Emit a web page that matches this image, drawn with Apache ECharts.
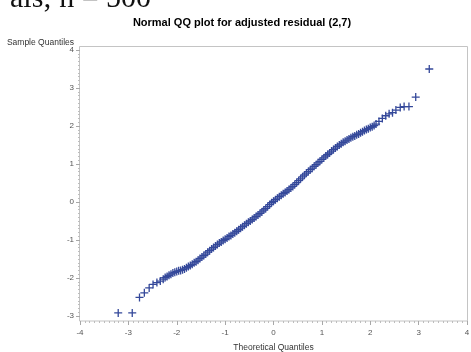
<!DOCTYPE html>
<html>
<head>
<meta charset="utf-8">
<script src="https://cdn.jsdelivr.net/npm/echarts@6/dist/echarts.min.js"></script>
<style>
  html, body { margin: 0; padding: 0; background: #fff; }
  #chart { width: 471px; height: 352px; }
</style>
</head>
<body>
<div id="chart"></div>
<script>
// Normal QQ plot of the adjusted residual (2,7), n = 500.
// Theoretical (normal) quantiles against sample quantiles, lower tail, body and upper tail.
const theoretical = [
  -3.21, -2.92, -2.77, -2.67, -2.57, -2.49, -2.41, -2.34,
  -2.28, -2.24, -2.20, -2.16, -2.12, -2.08, -2.04, -2.00, -1.96, -1.92,
  -1.88, -1.84, -1.80, -1.76, -1.72, -1.68, -1.64, -1.60, -1.56, -1.52,
  -1.48, -1.44, -1.40, -1.36, -1.32, -1.28, -1.24, -1.20, -1.16, -1.12,
  -1.08, -1.04, -1.00, -0.96, -0.92, -0.88, -0.84, -0.80, -0.76, -0.72,
  -0.68, -0.64, -0.60, -0.56, -0.52, -0.48, -0.44, -0.40, -0.36, -0.32,
  -0.28, -0.24, -0.20, -0.16, -0.12, -0.08, -0.04, 0.00, 0.04, 0.08,
  0.12, 0.16, 0.20, 0.24, 0.28, 0.32, 0.36, 0.40, 0.44, 0.48,
  0.52, 0.56, 0.60, 0.64, 0.68, 0.72, 0.76, 0.80, 0.84, 0.88,
  0.92, 0.96, 1.00, 1.04, 1.08, 1.12, 1.16, 1.20, 1.24, 1.28,
  1.32, 1.36, 1.40, 1.44, 1.48, 1.52, 1.56, 1.60, 1.64, 1.68,
  1.72, 1.76, 1.80, 1.84, 1.88, 1.92, 1.96, 2.00, 2.04, 2.08, 2.12,
  2.18, 2.25, 2.32, 2.39, 2.46, 2.53, 2.62, 2.70, 2.80, 2.94, 3.22
];
const sample = [
  -2.92, -2.92, -2.51, -2.39, -2.26, -2.17, -2.12, -2.08,
  -2.03, -1.99, -1.96, -1.93, -1.90, -1.87, -1.85, -1.83, -1.81, -1.80,
  -1.78, -1.76, -1.73, -1.70, -1.67, -1.64, -1.60, -1.57, -1.53, -1.49,
  -1.45, -1.41, -1.37, -1.32, -1.28, -1.24, -1.20, -1.16, -1.12, -1.08,
  -1.05, -1.01, -0.98, -0.95, -0.91, -0.88, -0.84, -0.81, -0.77, -0.73,
  -0.69, -0.65, -0.61, -0.57, -0.53, -0.50, -0.46, -0.42, -0.38, -0.34,
  -0.30, -0.26, -0.21, -0.17, -0.12, -0.07, -0.02, 0.02, 0.06, 0.10,
  0.14, 0.18, 0.22, 0.25, 0.29, 0.33, 0.37, 0.41, 0.46, 0.51,
  0.56, 0.61, 0.66, 0.71, 0.76, 0.80, 0.85, 0.89, 0.94, 0.98,
  1.03, 1.07, 1.12, 1.16, 1.21, 1.25, 1.29, 1.34, 1.38, 1.42,
  1.46, 1.50, 1.53, 1.57, 1.60, 1.63, 1.66, 1.69, 1.72, 1.74,
  1.77, 1.79, 1.82, 1.85, 1.88, 1.91, 1.93, 1.96, 1.98, 2.01, 2.05,
  2.12, 2.20, 2.27, 2.32, 2.35, 2.42, 2.49, 2.51, 2.51, 2.76, 3.50
];

const titleText = 'Normal QQ plot for adjusted residual (2,7)';
const xName = 'Theoretical Quantiles';
const yName = 'Sample Quantiles';
const headerText = 'als; n = 500';

const points = theoretical.map((x, i) => [x, sample[i]]);

const tickGray = '#a8a8a8';
const labelGray = '#555555';
const sans = '"Liberation Sans", Arial, sans-serif';

const chart = echarts.init(document.getElementById('chart'), null, { renderer: 'canvas' });

const axisCommon = {
  type: 'value',
  interval: 1,
  splitLine: { show: false },
  axisLine: { show: false, onZero: false },
  axisTick: { show: true, inside: false, length: 4, lineStyle: { color: tickGray, width: 1 } },
  minorTick: { show: true, splitNumber: 10, length: 2, lineStyle: { color: '#bdbdbd', width: 1 } },
  axisLabel: { fontSize: 8, color: labelGray, fontFamily: sans }
};

chart.setOption({
  animation: false,
  backgroundColor: '#ffffff',
  title: {
    text: titleText,
    left: 237,
    textAlign: 'center',
    top: 12,
    textStyle: { fontSize: 11, fontWeight: 'bold', color: '#000', fontFamily: sans }
  },
  grid: { left: 80, right: 4, top: 50, bottom: 36, containLabel: false, outerBoundsMode: 'none' },
  xAxis: Object.assign({}, axisCommon, {
    min: -4, max: 4,
    offset: 5,
    axisLabel: Object.assign({}, axisCommon.axisLabel, { margin: 8 }),
    name: xName,
    nameLocation: 'middle',
    nameGap: 22,
    nameTextStyle: { fontSize: 8.5, color: '#333', fontFamily: sans }
  }),
  yAxis: Object.assign({}, axisCommon, {
    min: -3, max: 4,
    axisLabel: Object.assign({}, axisCommon.axisLabel, { margin: 6 })
  }),
  graphic: [
    {
      type: 'rect',
      z: -1,
      silent: true,
      shape: { x: 79.5, y: 46.5, width: 388, height: 274.5 },
      style: { fill: 'none', stroke: '#c4c4c4', lineWidth: 1 }
    },
    {
      type: 'text',
      x: 74, y: 43,
      style: { text: yName, align: 'right', verticalAlign: 'middle', fontSize: 8.5, fill: '#333', fontFamily: sans }
    },
    {
      type: 'text',
      x: 10, y: -1,
      style: { text: headerText, align: 'left', verticalAlign: 'middle', fontSize: 30, fill: '#111', fontFamily: '"Liberation Serif", "DejaVu Serif", serif' }
    }
  ],
  series: [{
    type: 'scatter',
    data: points,
    symbol: 'path://M0,5 L10,5 M5,0 L5,10',
    symbolSize: 8,
    itemStyle: { color: 'none', borderColor: '#34489a', borderWidth: 1.3, opacity: 1 }
  }]
});
</script>
</body>
</html>
